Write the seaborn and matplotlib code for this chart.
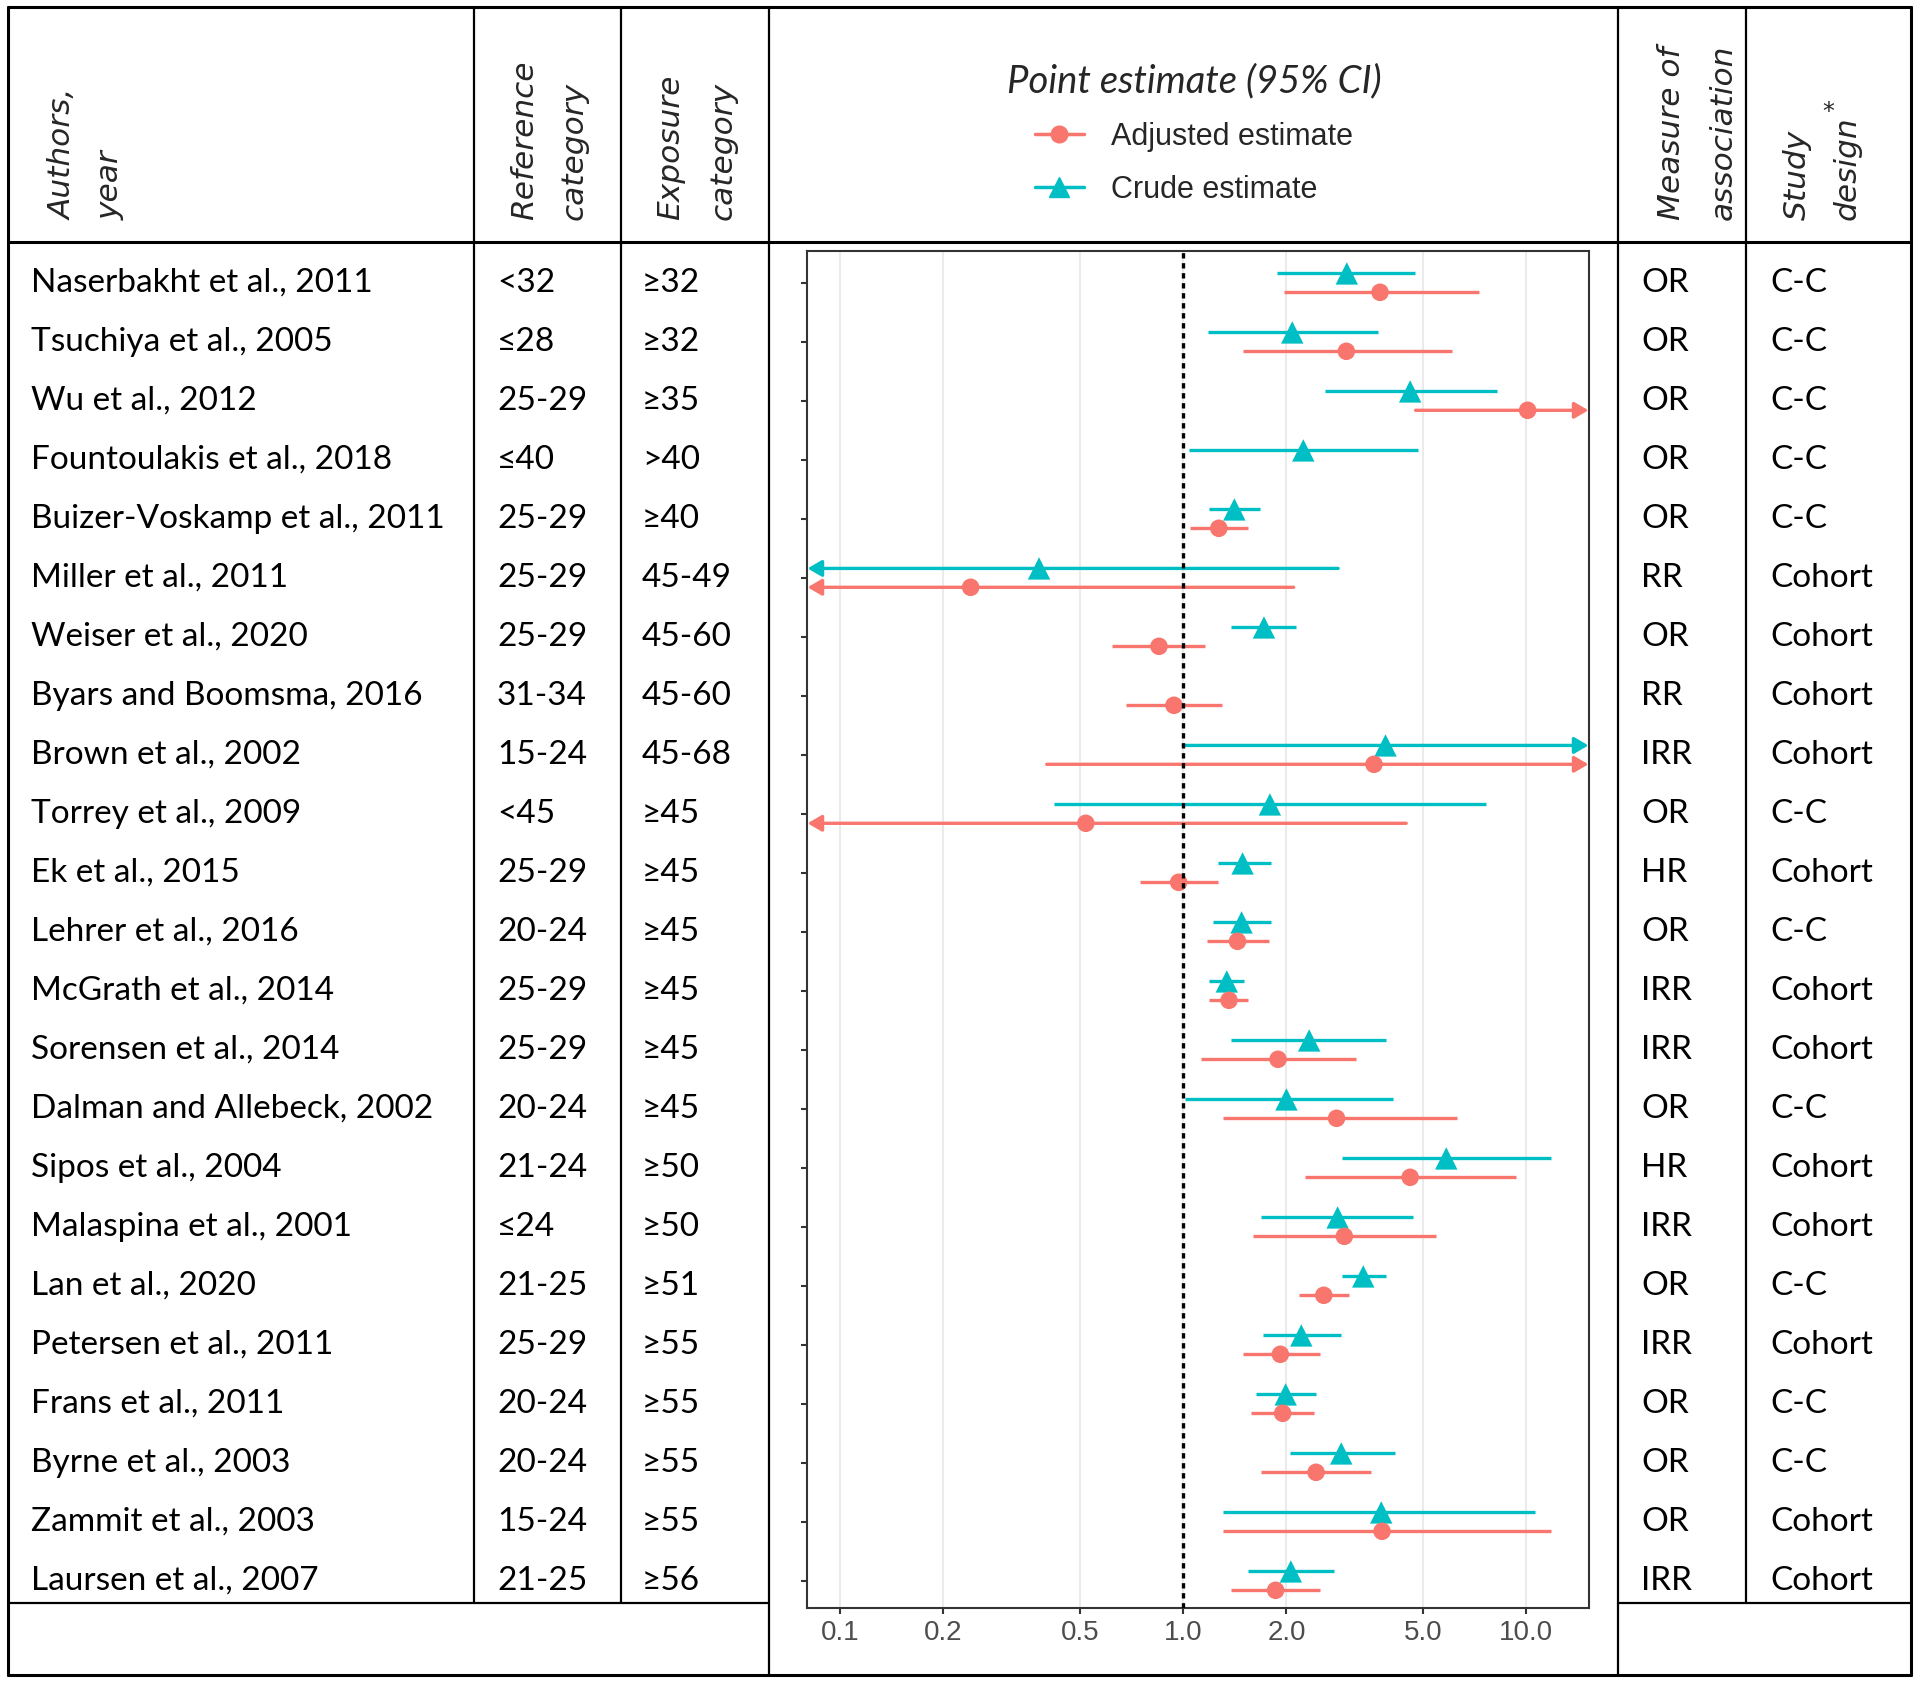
import numpy as np
import pandas as pd
import seaborn as sns
import matplotlib.pyplot as plt
from matplotlib.lines import Line2D
from matplotlib import transforms
from matplotlib.ticker import NullLocator

# table columns
studies = ["Naserbakht et al., 2011", "Tsuchiya et al., 2005", "Wu et al., 2012",
           "Fountoulakis et al., 2018", "Buizer-Voskamp et al., 2011", "Miller et al., 2011",
           "Weiser et al., 2020", "Byars and Boomsma, 2016", "Brown et al., 2002",
           "Torrey et al., 2009", "Ek et al., 2015", "Lehrer et al., 2016",
           "McGrath et al., 2014", "Sorensen et al., 2014", "Dalman and Allebeck, 2002",
           "Sipos et al., 2004", "Malaspina et al., 2001", "Lan et al., 2020",
           "Petersen et al., 2011", "Frans et al., 2011", "Byrne et al., 2003",
           "Zammit et al., 2003", "Laursen et al., 2007"]
ref_cat = ["<32", "≤28", "25-29", "≤40", "25-29", "25-29", "25-29", "31-34", "15-24",
           "<45", "25-29", "20-24", "25-29", "25-29", "20-24", "21-24", "≤24", "21-25",
           "25-29", "20-24", "20-24", "15-24", "21-25"]
exp_cat = ["≥32", "≥32", "≥35", ">40", "≥40", "45-49", "45-60", "45-60", "45-68",
           "≥45", "≥45", "≥45", "≥45", "≥45", "≥45", "≥50", "≥50", "≥51",
           "≥55", "≥55", "≥55", "≥55", "≥56"]
measure = ["OR", "OR", "OR", "OR", "OR", "RR", "OR", "RR", "IRR", "OR", "HR", "OR",
           "IRR", "IRR", "OR", "HR", "IRR", "OR", "IRR", "OR", "OR", "OR", "IRR"]
design = ["C-C", "C-C", "C-C", "C-C", "C-C", "Cohort", "Cohort", "Cohort", "Cohort",
          "C-C", "Cohort", "C-C", "Cohort", "Cohort", "C-C", "Cohort", "Cohort", "C-C",
          "Cohort", "C-C", "C-C", "Cohort", "Cohort"]

# estimates (NaN = not reported); CI bounds past the axis range get arrows
nan = np.nan
crude_est = [3.00, 2.08, 4.59, 2.24, 1.41, 0.38, 1.72, nan, 3.89, 1.79, 1.49, 1.48,
             1.34, 2.33, 2.00, 5.85, 2.82, 3.35, 2.21, 1.99, 2.89, 3.78, 2.06]
crude_lo = [1.88, 1.18, 2.59, 1.04, 1.19, 0.05, 1.38, nan, 1.00, 0.42, 1.26, 1.22,
            1.19, 1.38, 1.01, 2.91, 1.69, 2.91, 1.71, 1.63, 2.05, 1.31, 1.54]
crude_hi = [4.75, 3.70, 8.23, 4.85, 1.68, 2.83, 2.13, nan, 20.0, 7.62, 1.80, 1.80,
            1.50, 3.91, 4.10, 11.8, 4.68, 3.91, 2.89, 2.44, 4.14, 10.6, 2.76]
adj_est = [3.75, 2.99, 10.1, nan, 1.27, 0.24, 0.85, 0.94, 3.60, 0.52, 0.97, 1.44,
           1.36, 1.89, 2.80, 4.59, 2.95, 2.57, 1.92, 1.95, 2.44, 3.80, 1.86]
adj_lo = [1.97, 1.49, 4.76, nan, 1.05, 0.03, 0.62, 0.68, 0.40, 0.05, 0.75, 1.17,
          1.19, 1.13, 1.31, 2.27, 1.60, 2.18, 1.49, 1.58, 1.69, 1.31, 1.38]
adj_hi = [7.27, 6.07, 20.0, nan, 1.54, 2.10, 1.16, 1.30, 20.0, 4.47, 1.26, 1.78,
          1.55, 3.19, 6.27, 9.33, 5.47, 3.05, 2.51, 2.41, 3.54, 11.8, 2.51]

x_ticks = [0.1, 0.2, 0.5, 1.0, 2.0, 5.0, 10.0]
x_tick_labels = ["0.1", "0.2", "0.5", "1.0", "2.0", "5.0", "10.0"]

rows = []
for i in range(len(studies)):
    rows.append(dict(row=i + 1, type="Crude estimate", est=crude_est[i], lo=crude_lo[i], hi=crude_hi[i]))
    rows.append(dict(row=i + 1, type="Adjusted estimate", est=adj_est[i], lo=adj_lo[i], hi=adj_hi[i]))
df = pd.DataFrame(rows).dropna(subset=["est"])
df["y"] = df["row"] + df["type"].map({"Crude estimate": -0.16, "Adjusted estimate": 0.16})

colors = {"Adjusted estimate": "#F8766D", "Crude estimate": "#00BFC4"}

sns.set_theme(style="white")
plt.rcParams["font.family"] = ["Lato", "DejaVu Sans"]

W, H = 1920, 1682
fig = plt.figure(figsize=(19.2, 16.82), dpi=100)


def fx(x):
    return x / W


def fy(y):
    return 1 - y / H


ax = fig.add_axes([fx(807), fy(1608), (1589 - 807) / W, (1608 - 251) / H])
ax.set_xscale("log")
xmin, xmax = 0.08, 15.25
ax.set_xlim(xmin, xmax)
ax.set_ylim(23.46, 0.46)

ax.grid(axis="x", which="major", color="#EBEBEB", lw=1.5)
ax.set_axisbelow(True)

# confidence intervals
for _, r in df.iterrows():
    c = colors[r["type"]]
    lo, hi = max(r["lo"], xmin), min(r["hi"], xmax)
    arrow = dict(arrowstyle="-|>,head_length=0.6,head_width=0.35", mutation_scale=14,
                 lw=2.4, color=c, shrinkA=0, shrinkB=0)
    if r["lo"] < xmin:
        ax.annotate("", xy=(xmin * 1.004, r["y"]), xytext=(hi, r["y"]), arrowprops=arrow, zorder=2)
    elif r["hi"] > xmax:
        ax.annotate("", xy=(xmax / 1.004, r["y"]), xytext=(lo, r["y"]), arrowprops=arrow, zorder=2)
    else:
        ax.hlines(r["y"], lo, hi, color=c, lw=2.4, zorder=2)

sns.scatterplot(data=df, x="est", y="y", hue="type", style="type", size="type",
                palette=colors, markers={"Adjusted estimate": "o", "Crude estimate": "^"},
                sizes={"Adjusted estimate": 160, "Crude estimate": 260},
                edgecolor="none", linewidth=0, legend=False, ax=ax, zorder=3)

ax.axvline(1.0, color="black", linestyle=(0, (1.6, 1.4)), lw=2.4, zorder=4)

ax.set_xticks(x_ticks)
ax.set_xticklabels(x_tick_labels)
ax.xaxis.set_minor_locator(NullLocator())
ax.set_yticks(range(1, len(studies) + 1))
ax.set_yticklabels([])
ax.set_xlabel("")
ax.set_ylabel("")
ax.tick_params(axis="x", bottom=True, length=4, width=1.5, color="#333333",
               labelsize=20, labelcolor="#4D4D4D", pad=5)
ax.tick_params(axis="y", left=True, length=4, width=1.5, color="#333333")
for lbl in ax.get_xticklabels():
    lbl.set_family("Liberation Sans")
for sp in ax.spines.values():
    sp.set_visible(True)
    sp.set_color("#333333")
    sp.set_linewidth(1.5)

# legend in the header cell
handles = [Line2D([], [], color=colors["Adjusted estimate"], marker="o", lw=2.5, ms=12),
           Line2D([], [], color=colors["Crude estimate"], marker="^", lw=2.5, ms=14)]
fig.legend(handles, ["Adjusted estimate", "Crude estimate"], loc="center",
           bbox_to_anchor=(fx(1194), fy(134)), frameon=False,
           title="Point estimate (95% CI)",
           title_fontproperties=dict(family="Lato", style="italic", size=27.5),
           prop=dict(family="Liberation Sans", size=22),
           handlelength=1.6, handletextpad=0.9, labelspacing=0.75)

# table body
tr = transforms.blended_transform_factory(fig.transFigure, ax.transData)
body_font = dict(fontsize=24, va="center", color="black", transform=tr, clip_on=False)
for i in range(len(studies)):
    y = i + 1
    fig.text(fx(31), y, studies[i], ha="left", **body_font)
    fig.text(fx(497), y, ref_cat[i], ha="left", **body_font)
    fig.text(fx(642), y, exp_cat[i], ha="left", **body_font)
    fig.text(fx(1641), y, measure[i], ha="left", **body_font)
    fig.text(fx(1770), y, design[i], ha="left", **body_font)

# rotated headers
head = dict(rotation=90, ha="center", va="bottom", family="DejaVu Sans",
            style="italic", fontsize=22.5)
for x, s in [(63, "Authors,"), (110, "year"), (525, "Reference"), (574, "category"),
             (671, "Exposure"), (723, "category"), (1672, "Measure of"),
             (1723, "association"), (1797, "Study"), (1847, "design")]:
    fig.text(fx(x), fy(220), s, **head)
fig.text(fx(1828), fy(112), "*", ha="center", va="center", family="DejaVu Sans", fontsize=17)

# table grid
def rule(x0, y0, x1, y1, lw=1.6):
    fig.add_artist(Line2D([fx(x0), fx(x1)], [fy(y0), fy(y1)], transform=fig.transFigure,
                          color="black", lw=lw))


rule(8, 7, 1911, 7, 2.2)
rule(8, 1675, 1911, 1675, 2.2)
rule(8, 7, 8, 1675, 2.2)
rule(1911, 7, 1911, 1675, 2.2)
rule(8, 242, 1911, 242, 2.2)
rule(8, 1603, 769, 1603)
rule(1618, 1603, 1911, 1603)
rule(474, 7, 474, 1603)
rule(621, 7, 621, 1603)
rule(769, 7, 769, 1675)
rule(1618, 7, 1618, 1675)
rule(1746, 7, 1746, 1603)

fig.savefig("out.png", dpi=100)
